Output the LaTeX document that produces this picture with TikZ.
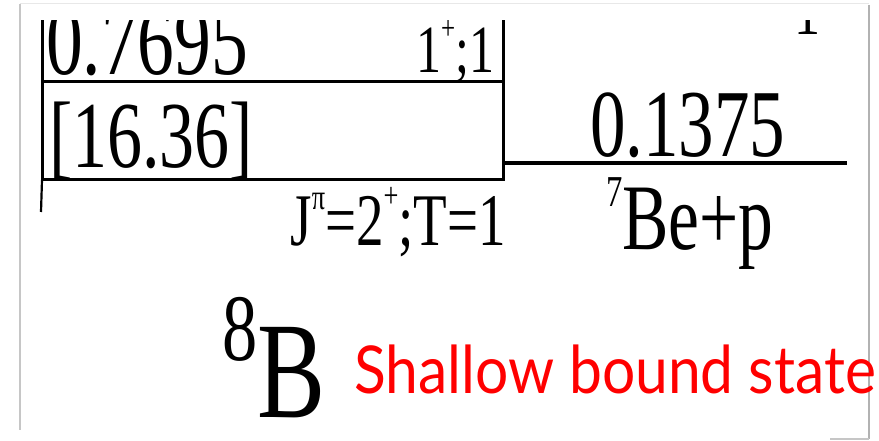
\documentclass[tikz,border=0pt]{standalone}
\usepackage{graphicx}
\usepackage{fontspec}
\setmainfont{Liberation Serif}
\newfontfamily\gillfont{Lato}
\usetikzlibrary{positioning}

\newcommand{\tallt}[1]{\scalebox{1}[1.35]{#1}}
\newcommand{\fsz}[1]{\fontsize{#1}{#1}\selectfont}
% raised small text: #1 = raise (em), #2 = scale
\newcommand{\hsup}[3]{\raisebox{#1em}{\scalebox{#2}{#3}}}
\tikzset{
  level/.style={line width=3pt, line cap=rect},
  lbl/.style={inner sep=0pt, outer sep=0pt},
}

\begin{document}
\begin{tikzpicture}[x=1pt, y=-1pt]
  \useasboundingbox (0,0) rectangle (879,441);
  % frame with shadow
  \draw[gray!18, line width=1pt] (20,4) -- (869,4);
  \draw[gray!45, line width=1.5pt] (20,4) -- (20,430);
  \draw[gray!60, line width=2.5pt] (869,5) -- (869,439);
  \draw[gray!45, line width=2pt] (830,439) -- (869,439);
  \begin{scope}
    \clip (21,21) rectangle (867,441);
    \coordinate (bxtl) at (42,10);
    \coordinate (bxtr) at (503,10);
    \coordinate (bxml) at (42,82);
    \coordinate (bxmr) at (503,82);
    \coordinate (bxbl) at (42,180);
    \coordinate (bxbr) at (503,180);
    \coordinate (lvlL) at (503,163);
    \coordinate (lvlR) at (847,163);
    \coordinate (tail) at (41,212);
    % 2+ resonance box and threshold
    \draw[level] (bxtl) -- (bxbl);
    \draw[line width=2.2pt] (bxbl) -- (tail);
    \draw[level] (bxtr) -- (bxbr);
    \draw[level] (bxml) -- (bxmr);
    \draw[level] (bxbl) -- (bxbr);
    \draw[line width=4pt] (lvlL) -- (lvlR);
    % labels
    \node[lbl, anchor=base west] (eup) at (46,75) {\tallt{\fsz{73.5}0.7695}};
    \node[lbl, anchor=base east] (jup) at (494,73) {\tallt{\fsz{50}1\hsup{0.5}{0.5}{+};1}};
    \node[lbl, anchor=base west] (ebox) at (49,168) {\tallt{\fsz{70}[16.36]}};
    \node[lbl, anchor=base west] (ethr) at (590,157) {\tallt{\fsz{71}0.1375}};
    \node[lbl, anchor=base east] (jbox) at (506,245) {\tallt{\fsz{55}J\hsup{0.48}{0.48}{π}=2\hsup{0.5}{0.48}{+};T=1}};
    \node[lbl, anchor=base west] (chan) at (606,250) {\tallt{\fsz{69.5}\hsup{0.46}{0.47}{7}Be+p}};
    \node[lbl, anchor=base] (jcut) at (807,35) {\tallt{\fsz{52}1}};
  \end{scope}
  \node[lbl, anchor=base west] (nucl) at (222,417) {\tallt{\fsz{102}\hsup{0.41}{0.69}{8}B}};
  \node[lbl, anchor=base west, text=red] (note) at (354,393) {\scalebox{0.89}[1]{\gillfont\fsz{66}Shallow bound state}};
\end{tikzpicture}
\end{document}
